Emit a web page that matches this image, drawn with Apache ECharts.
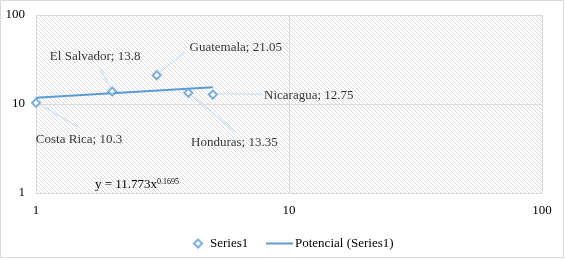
<!DOCTYPE html>
<html>
<head>
<meta charset="utf-8">
<script src="https://cdn.jsdelivr.net/npm/echarts@6/dist/echarts.min.js"></script>
<style>
  html, body { margin: 0; padding: 0; background: #fff; }
  #chart { width: 565px; height: 260px; }
</style>
</head>
<body>
<div id="chart"></div>
<script>
var countries = ['Costa Rica', 'El Salvador', 'Guatemala', 'Honduras', 'Nicaragua'];
var xValues = [1, 2, 3, 4, 5];
var yValues = [10.3, 13.8, 21.05, 13.35, 12.75];
// power trend end points
var trendX = [1, 5];
var trendY = [11.77, 15.47];
var equation = 'y = 11.773x';
var equationExp = '0.1695';

var FONT = '"Liberation Serif", "DejaVu Serif", serif';
var BLUE = '#5b9bd5';
var DIAMOND = 'path://M5,0L10,5L5,10L0,5Z';

// diagonal hatch for the plot area
var hatch = document.createElement('canvas');
hatch.width = 4;
hatch.height = 4;
var hctx = hatch.getContext('2d');
hctx.fillStyle = '#ffffff';
hctx.fillRect(0, 0, 4, 4);
hctx.fillStyle = '#dcdcdc';
for (var i = 0; i < 4; i++) {
  hctx.fillRect(i, i, 1, 1);
}

// label offsets from each point (px) and leader line start/end offsets
var labelOffsets = [[43, 37], [-17, -35], [79, -28], [46, 50], [96, 1]];
var leaderOffsets = [
  [[4, 2], [42, 24]],
  [[-2, -4], [-13, -25]],
  [[3, -3], [28, -23]],
  [[4, 3], [47, 39]],
  [[4, -1], [50, 0]]
];

var points = xValues.map(function(x, i) {
  return { name: countries[i], value: [x, yValues[i]] };
});
var trend = trendX.map(function(x, i) { return [x, trendY[i]]; });

var myChart = echarts.init(document.getElementById('chart'));
myChart.setOption({
  animation: false,
  textStyle: { fontFamily: FONT },
  grid: {
    left: 36, right: 23, top: 15, bottom: 67,
    show: true,
    borderWidth: 0,
    backgroundColor: { image: hatch, repeat: 'repeat' }
  },
  xAxis: {
    type: 'log', logBase: 10, min: 1, max: 100,
    axisLine: { show: true, lineStyle: { color: '#d9d9d9' } },
    axisTick: { show: false },
    axisLabel: { color: '#000', fontSize: 13, margin: 11, fontFamily: FONT },
    splitLine: { show: true, lineStyle: { color: '#d9d9d9', width: 1 } },
    minorTick: { show: false }
  },
  yAxis: {
    type: 'log', logBase: 10, min: 1, max: 100,
    axisLine: { show: false },
    axisTick: { show: false },
    axisLabel: { color: '#000', fontSize: 13, margin: 11, fontFamily: FONT },
    splitLine: { show: true, lineStyle: { color: '#d9d9d9', width: 1 } }
  },
  legend: [{
    top: 232,
    left: 188,
    itemWidth: 8,
    itemHeight: 8,
    itemGap: 10,
    textStyle: { color: '#000', fontSize: 13, fontFamily: FONT, padding: [0, 0, 0, 3] },
    data: [{ name: 'Series1', icon: DIAMOND }]
  }, {
    top: 232,
    left: 261,
    itemWidth: 27,
    itemHeight: 2,
    itemGap: 2,
    icon: 'rect',
    textStyle: { color: '#000', fontSize: 13, fontFamily: FONT, padding: [0, 0, 0, -3] },
    data: ['Potencial (Series1)']
  }],
  series: [{
    name: 'leaders',
    type: 'custom',
    silent: true,
    data: points.map(function(p) { return p.value; }),
    renderItem: function(params, api) {
      var c = api.coord([api.value(0), api.value(1)]);
      var o = leaderOffsets[params.dataIndex];
      return {
        type: 'line',
        shape: {
          x1: c[0] + o[0][0], y1: c[1] + o[0][1],
          x2: c[0] + o[1][0], y2: c[1] + o[1][1]
        },
        style: { stroke: '#d3e2f3', lineWidth: 1.5 }
      };
    },
    z: 1
  }, {
    name: 'Potencial (Series1)',
    type: 'line',
    data: trend,
    symbol: 'none',
    silent: true,
    lineStyle: { color: BLUE, width: 2 },
    itemStyle: { color: BLUE },
    z: 2
  }, {
    name: 'Series1',
    type: 'scatter',
    data: points,
    symbol: DIAMOND,
    symbolSize: 8,
    itemStyle: { color: '#fff', borderColor: BLUE, borderWidth: 2 },
    label: {
      show: true,
      position: 'inside',
      color: '#000',
      textBorderWidth: 0,
      fontSize: 13,
      fontFamily: FONT,
      formatter: function(p) { return p.name + '; ' + p.value[1]; }
    },
    labelLayout: function(p) {
      var o = labelOffsets[p.dataIndex];
      return { dx: o[0], dy: o[1] };
    },
    z: 3
  }],
  graphic: [{
    type: 'text',
    left: 95,
    top: 178,
    style: {
      text: equation + '{sup|' + equationExp + '}',
      fill: '#000',
      font: '13px ' + FONT,
      rich: {
        sup: { fontSize: 8, verticalAlign: 'top', fontFamily: FONT, fill: '#000' }
      }
    }
  }, {
    type: 'rect',
    shape: { x: 0.5, y: 0.5, width: 563, height: 257 },
    style: { fill: 'none', stroke: '#d9d9d9', lineWidth: 1 },
    silent: true
  }]
});
</script>
</body>
</html>
